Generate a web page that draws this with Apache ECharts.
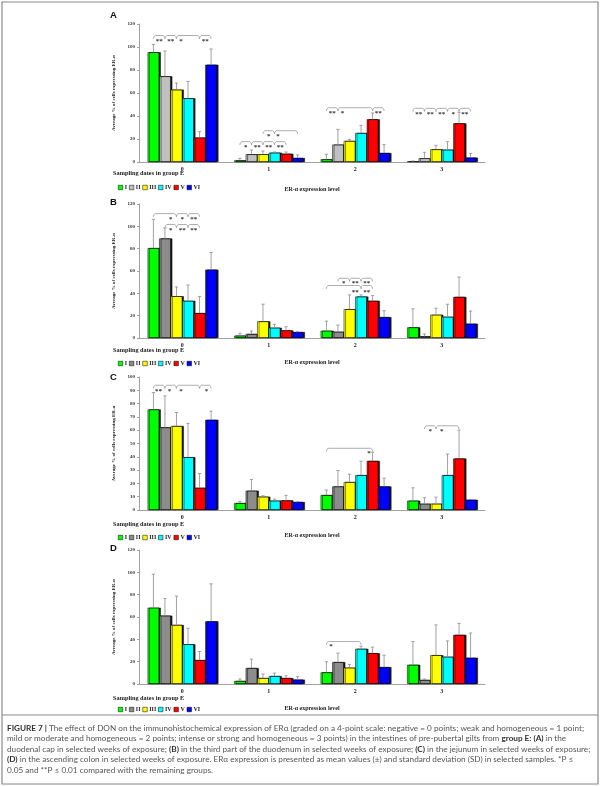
<!DOCTYPE html>
<html><head><meta charset="utf-8">
<script src="https://cdn.jsdelivr.net/npm/echarts@6/dist/echarts.min.js"></script>
<style>html,body{margin:0;padding:0;background:#fff}#c{width:600px;height:786px}</style>
</head><body><div id="c"></div><script>
// ---------- DATA ----------
const categories = ['0', '1', '2', '3'];
const groupNames = ['I', 'II', 'III', 'IV', 'V', 'VI'];

// Panel A (duodenal cap): rows = I..VI, cols = expression level 0..3
const meanA = [
  [95.4, 1.4, 2.3, 0.6],
  [74.5, 6.7, 15.1, 3.2],
  [62.9, 6.7, 18.3, 11.0],
  [55.4, 8.1, 25.2, 10.7],
  [21.2, 7.2, 37.1, 33.6],
  [84.6, 3.5, 7.8, 3.8]
];
const sdA = [
  [6.9, 1.8, 4.4, 0.3],
  [22.0, 3.7, 13.3, 5.2],
  [5.8, 2.9, 1.4, 3.5],
  [14.7, 0.6, 6.7, 7.0],
  [5.2, 1.5, 5.5, 9.6],
  [13.7, 2.6, 7.3, 3.7]
];
// Panel B (third part of duodenum)
const meanB = [
  [80.5, 2.1, 6.5, 9.5],
  [89.1, 3.6, 5.6, 1.5],
  [37.4, 14.9, 25.8, 20.8],
  [33.3, 9.2, 37.1, 19.0],
  [22.3, 6.8, 33.3, 36.8],
  [61.2, 5.3, 18.7, 12.8]
];
const sdB = [
  [25.8, 2.1, 8.6, 16.6],
  [9.5, 2.6, 6.0, 2.1],
  [8.3, 15.4, 12.8, 5.9],
  [14.2, 3.0, 1.5, 11.2],
  [14.8, 3.3, 4.7, 17.8],
  [15.4, 0.3, 5.7, 11.3]
];
// Panel C (jejunum)
const meanC = [
  [75.6, 5.2, 11.2, 7.0],
  [62.1, 14.5, 17.7, 4.7],
  [63.1, 10.0, 21.0, 4.7],
  [39.7, 7.0, 26.2, 26.2],
  [16.7, 7.2, 36.9, 38.7],
  [67.8, 6.0, 17.7, 7.7]
];
const sdC = [
  [12.7, 1.3, 3.8, 9.7],
  [23.7, 8.4, 12.0, 4.5],
  [10.2, 0.7, 5.9, 5.0],
  [25.4, 1.2, 10.5, 15.9],
  [10.7, 3.8, 6.5, 21.4],
  [6.5, 0.2, 6.2, 0.3]
];
// Panel D (ascending colon)
const meanD = [
  [68.3, 2.7, 10.4, 17.2],
  [61.2, 14.3, 19.6, 3.6],
  [52.9, 5.3, 14.6, 25.8],
  [35.6, 7.1, 31.5, 24.4],
  [21.4, 5.3, 27.6, 44.0],
  [56.1, 3.9, 15.1, 23.5]
];
const sdD = [
  [30.0, 1.8, 9.5, 20.8],
  [15.4, 8.0, 8.0, 0.9],
  [25.8, 3.6, 2.9, 27.1],
  [14.3, 2.7, 2.4, 14.2],
  [7.7, 2.1, 5.4, 10.3],
  [33.6, 2.6, 10.7, 22.2]
];

// Significance brackets: [category, fromBar, toBar, yValue]
const bracketsA = [
  [0,0,1,110],[0,1,2,110],[0,2,4,110],[0,4,5,110],
  [1,0,1,17.7],[1,1,2,17.7],[1,2,3,17.7],[1,3,4,17.7],
  [1,2,3,27.2],[1,3,5,27.2],
  [2,0,1,47.2],[2,1,4,47.2],[2,4,5,47.2],
  [3,0,1,46.7],[3,1,2,46.7],[3,2,3,46.7],[3,3,4,46.7],[3,4,5,46.7]
];
const bracketsB = [
  [0,0,2,111.4],[0,2,3,111.4],[0,3,4,111.4],
  [0,1,2,101.6],[0,2,3,101.6],[0,3,4,101.6],
  [2,1,2,53.5],[2,2,3,53.5],[2,3,4,53.5],
  [2,0,3,47],[2,3,4,47]
];
const bracketsC = [
  [0,0,1,93.8],[0,1,2,93.8],[0,2,4,93.8],[0,4,5,93.8],
  [2,0,4,46.4],
  [3,1,2,63.3],[3,2,4,63.3]
];
const bracketsD = [
  [2,0,3,38]
];
// Significance marks: [category, barPosition, yValue, text]
const starsA = [
  [0,0.5,105,'**'],[0,1.5,105,'**'],[0,2.4,105,'*'],[0,4.5,105,'**'],
  [1,0.5,12.8,'*'],[1,1.5,12.8,'**'],[1,2.5,12.8,'**'],[1,3.5,12.8,'**'],
  [1,2.5,22.5,'*'],[1,3.3,22.5,'*'],
  [2,0.5,42.5,'**'],[2,1.4,42.5,'*'],[2,4.5,42.5,'**'],
  [3,0.5,42,'**'],[3,1.5,42,'**'],[3,2.5,42,'**'],[3,3.5,42,'*'],[3,4.5,42,'**']
];
const starsB = [
  [0,1.5,106.5,'*'],[0,2.5,106.5,'*'],[0,3.5,106.5,'**'],
  [0,1.5,96.8,'*'],[0,2.5,96.8,'**'],[0,3.5,96.8,'**'],
  [2,1.5,48.8,'*'],[2,2.5,48.8,'**'],[2,3.5,48.8,'**'],
  [2,2.5,40.8,'**'],[2,3.5,40.8,'**']
];
const starsC = [
  [0,0.45,89.5,'**'],[0,1.4,89.5,'*'],[0,2.4,89.5,'*'],[0,4.6,89.5,'*'],
  [2,3.7,42.5,'*'],
  [3,1.5,59,'*'],[3,2.5,59,'*']
];
const starsD = [
  [2,0.4,33.5,'*']
];

// ---------- LAYOUT / STYLE ----------
const palette = ['#00ff00', '#c0c0c0', '#ffff00', '#00ffff', '#ff0000', '#0000ff'];
const SERIF = 'Liberation Serif';
const panels = [
  {letter:'A', mean:meanA, sd:sdA, br:bracketsA, st:starsA, top:24, height:138, max:120, interval:20, gray:'#c0c0c0', letterY:15, legTitleY:174, legY:183, nameGap:24},
  {letter:'B', mean:meanB, sd:sdB, br:bracketsB, st:starsB, top:204, height:134, max:120, interval:20, gray:'#8c8c8c', letterY:202, legTitleY:351, legY:359, nameGap:21},
  {letter:'C', mean:meanC, sd:sdC, br:bracketsC, st:starsC, top:377, height:133, max:100, interval:10, gray:'#8c8c8c', letterY:377, legTitleY:525, legY:533, nameGap:22},
  {letter:'D', mean:meanD, sd:sdD, br:bracketsD, st:starsD, top:550, height:134, max:120, interval:20, gray:'#8c8c8c', letterY:548, legTitleY:699, legY:705, nameGap:21}
];
const GRID_LEFT = 139, GRID_W = 346;
const CAT_GAP = 0.2;

function barX(api, cat, pos) {
  const band = api.size([1, 0])[0];
  const bw = band * (1 - CAT_GAP) / 6;
  const cx = api.coord([cat, 0])[0];
  return cx - band * (1 - CAT_GAP) / 2 + bw * (pos + 0.5);
}

const grids = [], xAxes = [], yAxes = [], series = [], legends = [], graphics = [];

panels.forEach((pd, p) => {
  grids.push({left: GRID_LEFT, width: GRID_W, top: pd.top, height: pd.height});
  xAxes.push({
    gridIndex: p, type: 'category', data: categories,
    name: 'ER-\u03b1 expression level', nameLocation: 'middle', nameGap: pd.nameGap,
    nameTextStyle: {fontFamily: SERIF, fontWeight: 'bold', fontSize: 6, color: '#222'},
    axisLine: {lineStyle: {color: '#8a8a8a', width: 0.8}},
    axisTick: {length: 2, lineStyle: {color: '#8a8a8a', width: 0.8}},
    axisLabel: {fontFamily: SERIF, fontWeight: 'bold', fontSize: 6, color: '#222', margin: 4}
  });
  yAxes.push({
    gridIndex: p, type: 'value', min: 0, max: pd.max, interval: pd.interval,
    name: 'Average % of cells expressing ER-\u03b1', nameLocation: 'middle', nameGap: 16,
    nameTextStyle: {fontFamily: SERIF, fontWeight: 'bold', fontSize: 5, color: '#222'},
    axisLine: {show: true, lineStyle: {color: '#8a8a8a', width: 0.8}},
    axisTick: {show: true, length: 2, lineStyle: {color: '#8a8a8a', width: 0.8}},
    axisLabel: {fontFamily: SERIF, fontWeight: 'bold', fontSize: 5, color: '#333', margin: 4},
    splitLine: {show: false}
  });
  groupNames.forEach((g, s) => {
    series.push({
      type: 'bar', name: g, xAxisIndex: p, yAxisIndex: p, data: pd.mean[s],
      barGap: '0%', barCategoryGap: (CAT_GAP * 100) + '%',
      itemStyle: {
        color: s === 1 ? pd.gray : palette[s], borderColor: '#000', borderWidth: 0.5,
        shadowColor: 'rgba(0,0,0,0.9)', shadowOffsetX: 1.6, shadowOffsetY: 0, shadowBlur: 0
      },
      emphasis: {disabled: true}, z: 2
    });
  });
  // error bars
  const errData = [];
  groupNames.forEach((g, s) => {
    categories.forEach((c, ci) => {
      errData.push([ci, pd.mean[s][ci], pd.mean[s][ci] + pd.sd[s][ci], s]);
    });
  });
  series.push({
    type: 'custom', name: 'err' + p, xAxisIndex: p, yAxisIndex: p, data: errData, z: 3,
    encode: {x: 0, y: [1, 2]}, silent: true, clip: false,
    renderItem: (params, api) => {
      const cat = api.value(0), m = api.value(1), t = api.value(2), s = api.value(3);
      const x = barX(api, cat, s);
      const y1 = api.coord([cat, m])[1], y2 = api.coord([cat, t])[1];
      return {type: 'group', children: [
        {type: 'line', shape: {x1: x, y1: y1, x2: x, y2: y2}, style: {stroke: '#8c8c8c', lineWidth: 0.8}},
        {type: 'line', shape: {x1: x - 1.6, y1: y2, x2: x + 1.6, y2: y2}, style: {stroke: '#8c8c8c', lineWidth: 0.8}}
      ]};
    }
  });
  // brackets
  series.push({
    type: 'custom', name: 'br' + p, xAxisIndex: p, yAxisIndex: p, data: pd.br, z: 3,
    encode: {x: 0, y: 3}, silent: true, clip: false,
    renderItem: (params, api) => {
      const cat = api.value(0), f = api.value(1), t = api.value(2), yv = api.value(3);
      const xf = barX(api, cat, f), xt = barX(api, cat, t);
      const y = api.coord([cat, yv])[1];
      return {type: 'polyline', shape: {points: [[xf, y + 3.2], [xf + 0.4, y + 1.2], [xf + 1.8, y], [xt - 1.8, y], [xt - 0.4, y + 1.2], [xt, y + 3.2]]},
        style: {stroke: '#999', lineWidth: 0.8, fill: null}};
    }
  });
  // significance stars
  series.push({
    type: 'custom', name: 'st' + p, xAxisIndex: p, yAxisIndex: p, data: pd.st.map(r => [r[0], r[1], r[2]]), z: 4,
    encode: {x: 0, y: 2}, silent: true, clip: false,
    renderItem: (params, api) => {
      const cat = api.value(0), pos = api.value(1), yv = api.value(2);
      return {type: 'text', x: barX(api, cat, pos), y: api.coord([cat, yv])[1],
        style: {text: pd.st[params.dataIndex][3], fill: '#333', fontFamily: SERIF, fontWeight: 'bold', fontSize: 7, align: 'center', verticalAlign: 'middle'}};
    }
  });
  legends.push({
    left: 113, top: pd.legY - 3.5, orient: 'horizontal', icon: 'rect',
    itemWidth: 4.5, itemHeight: 4.5, itemGap: 2, selectedMode: false,
    itemStyle: {borderColor: '#000', borderWidth: 0.5},
    textStyle: {fontFamily: SERIF, fontWeight: 'bold', fontSize: 6, color: '#222', padding: [0, 0, 0, -3]},
    data: groupNames.map((g, s) => ({name: g, itemStyle: {color: s === 1 ? pd.gray : palette[s]}}))
  });
  graphics.push({type: 'text', left: 110, top: pd.letterY - 5,
    style: {text: pd.letter, fontFamily: 'Liberation Sans', fontWeight: 'bold', fontSize: 9.5, fill: '#111'}});
  graphics.push({type: 'text', left: 113, top: pd.legTitleY - 3.5,
    style: {text: 'Sampling dates in group E', fontFamily: SERIF, fontWeight: 'bold', fontSize: 6.3, fill: '#222'}});
});

// frame and caption
graphics.push({type: 'rect', shape: {x: 2, y: 2, width: 596, height: 782}, style: {fill: null, stroke: '#8a8a8a', lineWidth: 1.2}, z: 10});
graphics.push({type: 'line', shape: {x1: 2, y1: 715, x2: 598, y2: 715}, style: {stroke: '#8a8a8a', lineWidth: 1.2}, z: 10});
const capLines = [
  '{b|FIGURE 7 |}{n| The effect of DON on the immunohistochemical expression of ER\u03b1 (graded on a 4-point scale: negative = 0 points; weak and homogeneous = 1 point;}',
  '{n|mild or moderate and homogeneous = 2 points; intense or strong and homogeneous = 3 points) in the intestines of pre-pubertal gilts from }{b|group E: (A)}{n| in the}',
  '{n|duodenal cap in selected weeks of exposure; }{b|(B)}{n| in the third part of the duodenum in selected weeks of exposure; }{b|(C)}{n| in the jejunum in selected weeks of exposure;}',
  '{b|(D)}{n| in the ascending colon in selected weeks of exposure. ER\u03b1 expression is presented as mean values (\u00b1) and standard deviation (SD) in selected samples. *P \u2264}',
  '{n|0.05 and **P \u2264 0.01 compared with the remaining groups.}'
];
const capY = [729, 739.5, 750, 760.5, 771];
capLines.forEach((t, i) => {
  graphics.push({type: 'text', left: 7, top: capY[i] - 5,
    style: {text: t, rich: {
      n: {fontFamily: 'Lato', fontSize: 8.2, fill: '#555'},
      b: {fontFamily: 'Lato', fontSize: 8.2, fontWeight: 'bold', fill: '#333'}
    }}});
});

const chart = echarts.init(document.getElementById('c'), null, {renderer: 'canvas'});
chart.setOption({
  animation: false,
  backgroundColor: '#fff',
  grid: grids, xAxis: xAxes, yAxis: yAxes, series: series, legend: legends,
  graphic: graphics
});
</script></body></html>
